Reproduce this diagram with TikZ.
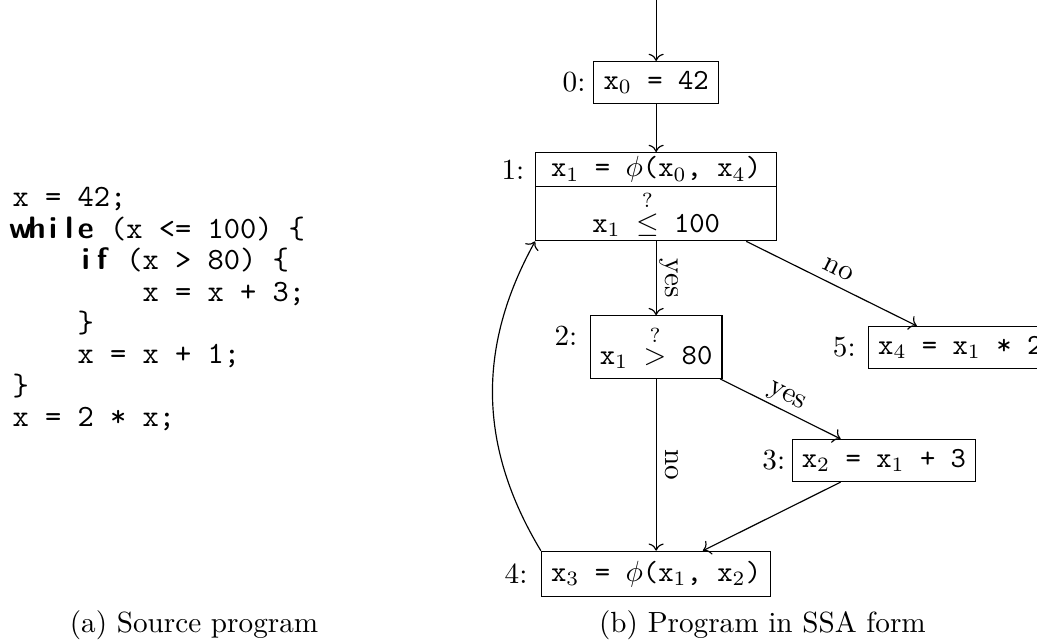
\documentclass[tikz,border=0pt]{standalone}
\usepackage{tikz}
\usetikzlibrary{arrows.meta, positioning, shapes.multipart}

% one bold sans letter per code column
\newcommand{\kw}[1]{\foreach \ch in {#1}{\makebox[0.525em]{\sffamily\bfseries\ch}}}

\begin{document}
\begin{tikzpicture}[
    code/.style={anchor=base west, inner sep=0pt, font=\fontsize{10.6}{11}\selectfont\ttfamily},
    stmt/.style={rectangle, draw, font=\ttfamily},
    cond/.style={rectangle split, rectangle split parts=2, draw, font=\ttfamily,
                 inner ysep=1.2pt, minimum width=2.9cm},
    num/.style={inner sep=0pt},
    lab/.style={midway, sloped, above, inner sep=1pt, text depth=2pt},
    arrow/.style={-{To}},
    capt/.style={anchor=base},
]
\useasboundingbox (0,0) rectangle (12.486,7.742);
% source program
\foreach \src [count=\i] in {
    {x = 42;},
    {\kw{w,h,i,l,e} (x <= 100) \{},
    {~~~~\kw{i,f} (x > 80) \{},
    {~~~~~~~~x = x + 3;},
    {~~~~\}},
    {~~~~x = x + 1;},
    {\}},
    {x = 2 * x;}%
}
    \node[code] (src\i) at (0.145, {5.25-0.378*(\i-1)}) {\src};
\node[capt] (capa) at (2.336, 0.132) {(a) Source program};

% SSA graph
\coordinate (entry) at (7.90, 7.742);
\node[stmt] (b0) at (7.90, 6.748) {x$_0$ = 42};
\node[cond, anchor=north] (b1) at (7.90, 5.912) {x$_1$ = $\phi$(x$_0$, x$_4$)\nodepart{two}x$_1$ $\stackrel{?}{\le}$ 100};
\node[stmt] (b2) at (7.90, 3.564) {x$_1$ $\stackrel{?}{>}$ 80};
\node[stmt] (b3) at (10.643, 2.197) {x$_2$ = x$_1$ + 3};
\node[stmt] (b4) at (7.90, 0.831) {x$_3$ = $\phi$(x$_1$, x$_2$)};
\node[stmt, anchor=west] (b5) at (10.45, 3.558) {x$_4$ = x$_1$ * 2};

\node[num, left=2.5pt of b0] (n0) {0:};
\node[num, anchor=east] (n1) at ([xshift=-3.5pt, yshift=-6pt]b1.north west) {1:};
\node[num, anchor=east] (n2) at ([xshift=-4pt, yshift=4pt]b2.west) {2:};
\node[num, left=2pt of b3] (n3) {3:};
\node[num, left=4.4pt of b4] (n4) {4:};
\node[num, left=4pt of b5] (n5) {5:};

\draw[arrow] (entry) -- (b0);
\draw[arrow] (b0) -- (b1);
\draw[arrow] (b1) -- node[lab] {yes} (b2);
\draw[arrow] (b1) -- node[lab] {no} (b5);
\draw[arrow] (b2) -- node[lab] {yes} (b3);
\draw[arrow] (b2) -- node[lab] {no} (b4);
\draw[arrow] (b3) -- (b4);
\draw[arrow] (b4.north west) to[bend left=30] (b1.south west);

\node[capt] (capb) at (9.18, 0.132) {(b) Program in SSA form};
\end{tikzpicture}
\end{document}
